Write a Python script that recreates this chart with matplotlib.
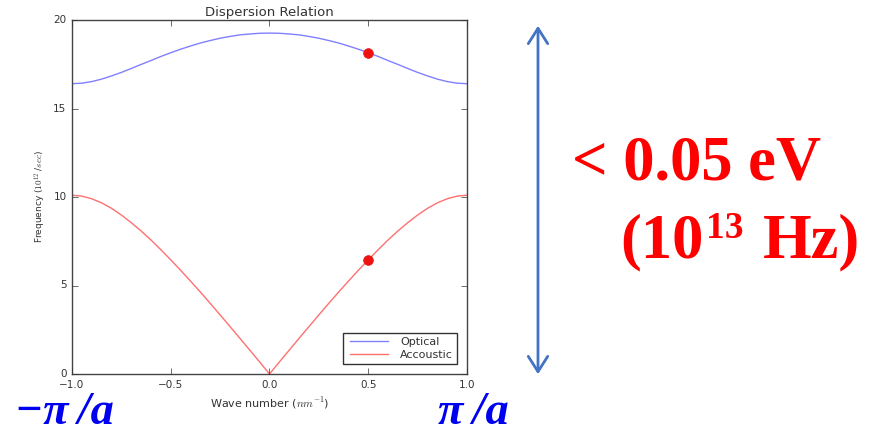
import matplotlib
matplotlib.use('Agg')
import matplotlib.pyplot as plt
from matplotlib.patches import FancyArrowPatch

# Wave number over the first Brillouin zone (units of pi/a)
k = [-1.00, -0.95, -0.90, -0.85, -0.80, -0.75, -0.70, -0.65, -0.60, -0.55,
     -0.50, -0.45, -0.40, -0.35, -0.30, -0.25, -0.20, -0.15, -0.10, -0.05,
     0.00, 0.05, 0.10, 0.15, 0.20, 0.25, 0.30, 0.35, 0.40, 0.45,
     0.50, 0.55, 0.60, 0.65, 0.70, 0.75, 0.80, 0.85, 0.90, 0.95, 1.00]

# Frequencies (10^12 / sec)
optical = [16.40, 16.43, 16.52, 16.66, 16.84, 17.04, 17.26, 17.49, 17.71, 17.94,
           18.15, 18.35, 18.53, 18.70, 18.84, 18.97, 19.07, 19.16, 19.21, 19.25,
           19.26, 19.25, 19.21, 19.16, 19.07, 18.97, 18.84, 18.70, 18.53, 18.35,
           18.15, 17.94, 17.71, 17.49, 17.26, 17.04, 16.84, 16.66, 16.52, 16.43, 16.40]
acoustic = [10.10, 10.05, 9.90, 9.67, 9.36, 8.98, 8.55, 8.08, 7.57, 7.02,
            6.45, 5.86, 5.25, 4.63, 3.99, 3.34, 2.68, 2.02, 1.35, 0.68,
            0.00, 0.68, 1.35, 2.02, 2.68, 3.34, 3.99, 4.63, 5.25, 5.86,
            6.45, 7.02, 7.57, 8.08, 8.55, 8.98, 9.36, 9.67, 9.90, 10.05, 10.10]

# Marked points at k = 0.5
mark_k = [0.5, 0.5]
mark_f = [18.15, 6.45]

x_ticks = [-1.0, -0.5, 0.0, 0.5, 1.0]
y_ticks = [0, 5, 10, 15, 20]

W, H = 870, 434

plt.style.use('classic')
fig = plt.figure(figsize=(8.7, 4.34), dpi=100, facecolor='white')
ax = fig.add_axes([72 / W, 1 - 374 / H, 395 / W, 354 / H])
ax.set_facecolor('white')

ax.plot(k, optical, color='#8080ff', lw=1.0, label='Optical')
ax.plot(k, acoustic, color='#ff7070', lw=1.0, label='Accoustic')
ax.plot(mark_k, mark_f, 'o', color='#ee1111', markeredgecolor='#ee1111', markersize=7)

ax.set_xlim(-1, 1)
ax.set_ylim(0, 20)
ax.set_xticks(x_ticks)
ax.set_yticks(y_ticks)
ax.tick_params(labelsize=7.5, colors='#333333', length=4, direction='in')
for s in ax.spines.values():
    s.set_color('#444444')
    s.set_linewidth(1.0)

ax.set_title('Dispersion Relation', fontsize=9.5, color='#333333', pad=3)
ax.set_xlabel('Wave number ($nm^{-1}$)', fontsize=8, color='#333333', labelpad=4)
ax.set_ylabel('Frequency ($10^{12}$ /$sec$)', fontsize=6.5, color='#333333')
ax.yaxis.set_label_coords(-24 / 395, 0.5)

leg = ax.legend(loc='lower right', fontsize=8, frameon=True, handlelength=4,
                borderpad=0.35, labelspacing=0.25, borderaxespad=0.9)
leg.get_frame().set_edgecolor('#333333')
leg.get_frame().set_linewidth(1.0)
for t in leg.get_texts():
    t.set_color('#333333')

# Double-headed arrow spanning the frequency range
fig.add_artist(FancyArrowPatch(
    (538, H - 377), (538, H - 23), transform=None,
    arrowstyle='<->,head_length=11,head_width=7', color='#4472C4', lw=2,
    mutation_scale=1))

serif = 'Liberation Serif'
red = '#ff0000'
fig.text(572 / W, 1 - 180 / H, '< 0.05 eV', fontsize=45, color=red,
         fontweight='bold', family=serif, ha='left', va='baseline')
fig.text(620 / W, 1 - 257 / H, '(10', fontsize=45, color=red,
         fontweight='bold', family=serif, ha='left', va='baseline')
fig.text(706 / W, 1 - 238 / H, '13', fontsize=27, color=red,
         fontweight='bold', family=serif, ha='left', va='baseline')
fig.text(763 / W, 1 - 257 / H, 'Hz)', fontsize=45, color=red,
         fontweight='bold', family=serif, ha='left', va='baseline')

blue = '#0000f0'
fig.text(15 / W, 1 - 423.5 / H, '\u2212\u03c0\u2009/a', fontsize=33.5, color=blue,
         fontweight='bold', style='italic', family=serif, ha='left', va='baseline')
fig.text(438 / W, 1 - 423.5 / H, '\u03c0\u2009/a', fontsize=33.5, color=blue,
         fontweight='bold', style='italic', family=serif, ha='left', va='baseline')

fig.savefig('out.png', dpi=100, facecolor='white')
